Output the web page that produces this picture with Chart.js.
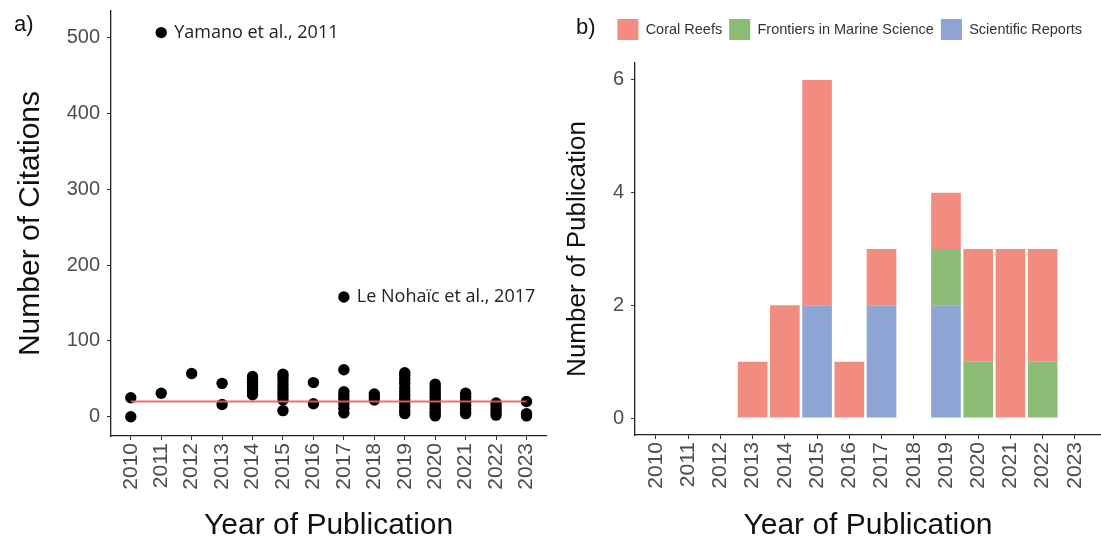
<!DOCTYPE html>
<html lang="en">
<head>
<meta charset="utf-8"/>
<title>Citations and publications per year</title>
<script src="https://cdn.jsdelivr.net/npm/chart.js"></script>
<style>
  body {
    margin: 0;
    background: white;
    width: 1101px;
    height: 544px;
    position: relative;
    overflow: hidden;
  }
  .panel {
    position: absolute;
    top: 0;
  }
</style>
</head>
<body>
<div class="panel" style="left:0"><canvas id="graficoA" width="552" height="544"></canvas></div>
<div class="panel" style="left:552px"><canvas id="graficoB" width="549" height="544"></canvas></div>

<script>
  const years = [2010, 2011, 2012, 2013, 2014, 2015, 2016, 2017, 2018, 2019, 2020, 2021, 2022, 2023];

  // citations of each paper, one list per year (same order as years)
  const citations = [
    [25, 0],
    [507, 31],
    [57],
    [44, 16],
    [53, 49, 45, 41, 37, 33, 29],
    [56, 52, 47, 42, 37, 32, 27, 22, 8],
    [45, 17],
    [158, 62, 33, 28, 23, 17, 11, 5],
    [30, 26, 22],
    [58, 54, 49, 44, 38, 33, 28, 23, 18, 13, 8, 4],
    [43, 39, 35, 31, 27, 23, 19, 15, 11, 7, 4, 1],
    [31, 27, 23, 19, 15, 11, 7, 4],
    [18, 14, 10, 6, 2],
    [20, 4, 1]
  ];

  const trendYears = [2010, 2023];
  const trendValues = [20, 20];

  const noteLabels = ['Yamano et al., 2011', 'Le Nohaïc et al., 2017'];
  const noteYears = [2011, 2017];
  const noteValues = [507, 158];

  const citationTicks = [0, 100, 200, 300, 400, 500];

  // publications per journal and year (same order as years)
  const journals = ['Scientific Reports', 'Frontiers in Marine Science', 'Coral Reefs'];
  const sciReports = [0, 0, 0, 0, 0, 2, 0, 2, 0, 2, 0, 0, 0, 0];
  const frontiers  = [0, 0, 0, 0, 0, 0, 0, 0, 0, 1, 1, 0, 1, 0];
  const coralReefs = [0, 0, 0, 1, 2, 4, 1, 1, 0, 1, 2, 3, 2, 0];
  const pubTicks = [0, 2, 4, 6];

  const fonte = '"Liberation Sans", Arial, sans-serif';
  const cinza = '#4d4d4d';

  function fixarEixo(largura, altura) {
    return function (scale) {
      if (largura) scale.width = largura;
      if (altura) scale.height = altura;
      scale.paddingTop = 0;
      scale.paddingBottom = 0;
      scale.paddingLeft = 0;
      scale.paddingRight = 0;
    };
  }

  function ticksFixos(valores) {
    return function (scale) {
      scale.ticks = valores.map(v => ({ value: v }));
    };
  }

  const eixoX = (min, max, altura) => ({
    type: 'linear',
    min, max,
    afterBuildTicks: ticksFixos(years),
    afterFit: fixarEixo(0, altura),
    grid: { drawOnChartArea: false, drawTicks: true, tickLength: 4, color: '#333', offset: false },
    border: { display: true, color: '#222', width: 1.3 },
    ticks: {
      autoSkip: false, minRotation: 90, maxRotation: 90, padding: 3,
      color: cinza, font: { family: fonte, size: 21 },
      callback: v => String(v)
    },
    title: {
      display: true, text: 'Year of Publication', color: '#111',
      font: { family: fonte, size: 30 }, padding: { top: 0, bottom: 0 }
    }
  });

  const eixoY = (min, max, valores, largura, titulo, tamTitulo, padTitulo) => ({
    min, max,
    afterBuildTicks: ticksFixos(valores),
    afterFit: fixarEixo(largura, 0),
    grid: { drawOnChartArea: false, drawTicks: true, tickLength: 4, color: '#333' },
    border: { display: true, color: '#222', width: 1.3 },
    ticks: { padding: 7, color: cinza, font: { family: fonte, size: 20 } },
    title: {
      display: true, text: titulo, color: '#111',
      font: { family: fonte, size: tamTitulo }, padding: { top: padTitulo, bottom: 0 }
    }
  });

  const letraPainel = {
    id: 'letraPainel',
    afterDraw(chart, args, opts) {
      const ctx = chart.ctx;
      ctx.save();
      ctx.fillStyle = '#111';
      ctx.font = '22px ' + fonte;
      ctx.textBaseline = 'middle';
      ctx.textAlign = 'left';
      ctx.fillText(opts.texto, opts.x, opts.y);
      ctx.restore();
    }
  };

  const notas = {
    id: 'notas',
    afterDatasetsDraw(chart) {
      const { ctx, scales: { x, y } } = chart;
      ctx.save();
      ctx.fillStyle = '#222';
      ctx.font = '18px "Open Sans", sans-serif';
      ctx.textBaseline = 'middle';
      ctx.textAlign = 'left';
      noteLabels.forEach((t, i) => {
        ctx.fillText(t, x.getPixelForValue(noteYears[i]) + 13, y.getPixelForValue(noteValues[i]));
      });
      ctx.restore();
    }
  };

  const pontos = [];
  years.forEach((ano, i) => citations[i].forEach(c => pontos.push({ x: ano, y: c })));

  new Chart(document.getElementById('graficoA'), {
    type: 'scatter',
    data: {
      datasets: [
        {
          type: 'line',
          data: trendYears.map((a, i) => ({ x: a, y: trendValues[i] })),
          borderColor: 'rgba(238, 96, 96, 0.9)',
          borderWidth: 2,
          pointRadius: 0
        },
        {
          data: pontos,
          backgroundColor: '#000',
          borderWidth: 0,
          pointRadius: 5.7
        }
      ]
    },
    options: {
      responsive: false,
      animation: false,
      layout: { padding: { left: 0, top: 11, right: 2, bottom: 0 } },
      plugins: {
        legend: { display: false },
        tooltip: { enabled: false },
        letraPainel: { texto: 'a)', x: 14, y: 25 }
      },
      scales: {
        x: eixoX(2009.35, 2023.65, 108),
        y: eixoY(-25.5, 535.5, citationTicks, 111, 'Number of Citations', 30, 13)
      }
    },
    plugins: [notas, letraPainel]
  });

  // room between the legend and the plot, and legend pulled a bit to the left
  const espacoLegenda = {
    id: 'espacoLegenda',
    beforeLayout(chart) {
      const lg = chart.legend;
      if (lg && !lg._ajustada) {
        const fitOriginal = lg.fit.bind(lg);
        lg.fit = function () {
          fitOriginal();
          this.height += 13;
          if (this.lineWidths) this.lineWidths[0] += 12;
        };
        lg._ajustada = true;
      }
    }
  };

  const cores = ['#8da4d4', '#8cbb76', '#f28c80'];
  const series = [sciReports, frontiers, coralReefs];

  new Chart(document.getElementById('graficoB'), {
    type: 'bar',
    data: {
      datasets: journals.map((j, k) => ({
        label: j,
        data: years.map((a, i) => ({ x: a, y: series[k][i] })),
        backgroundColor: cores[k],
        borderWidth: 0,
        categoryPercentage: 1,
        barPercentage: 0.92
      }))
    },
    options: {
      responsive: false,
      animation: false,
      layout: { padding: { left: 0, top: 12, right: 0, bottom: 0 } },
      plugins: {
        legend: {
          position: 'top', align: 'end', reverse: true,
          labels: {
            boxWidth: 21, boxHeight: 21, padding: 7, color: '#333',
            font: { family: fonte, size: 14.5 }
          }
        },
        tooltip: { enabled: false },
        letraPainel: { texto: 'b)', x: 24, y: 28 }
      },
      scales: {
        x: Object.assign(eixoX(2009.35, 2023.81, 109), { stacked: true, offset: false }),
        y: Object.assign(eixoY(-0.3, 6.3, pubTicks, 83, 'Number of Publication', 26, 10), { stacked: true })
      }
    },
    plugins: [espacoLegenda, letraPainel]
  });
</script>
</body>
</html>
